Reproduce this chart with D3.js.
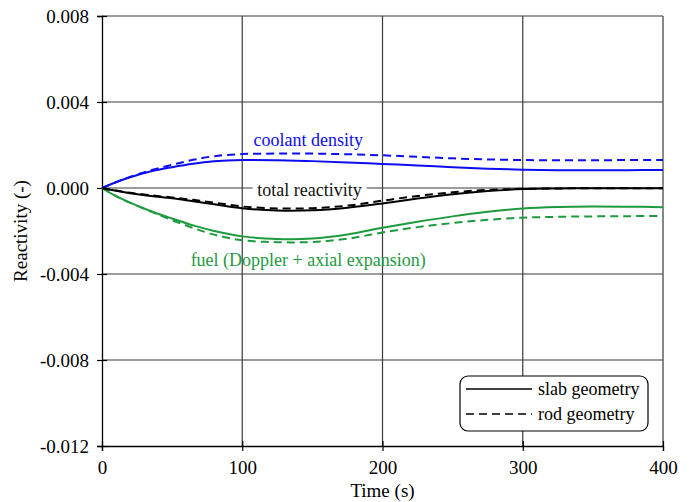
<!DOCTYPE html>
<html>
<head>
<meta charset="utf-8">
<script src="https://cdn.jsdelivr.net/npm/d3@7"></script>
<style>
  html, body { margin: 0; padding: 0; background: #fff; }
  svg { display: block; font-family: "Liberation Serif", "Times New Roman", serif; }
</style>
</head>
<body>
<svg id="chart" width="696" height="502"></svg>
<script>
// Time samples (s)
const time = [0, 10, 20, 35, 50, 65, 80, 100, 125, 150, 175, 200, 225, 250, 275, 300, 325, 350, 375, 400];

// Reactivity components, slab geometry (solid) and rod geometry (dashed)
const coolantSlab = [0, 0.00027, 0.0005, 0.00078, 0.00097, 0.00113, 0.00124, 0.0013, 0.00129, 0.00125, 0.00119, 0.00112, 0.00105, 0.00097, 0.0009, 0.00085, 0.00083, 0.00083, 0.00083, 0.00084];
const coolantRod  = [0, 0.00027, 0.00052, 0.00083, 0.00108, 0.00131, 0.00148, 0.00158, 0.0016, 0.0016, 0.00157, 0.00152, 0.00145, 0.00138, 0.00133, 0.0013, 0.00129, 0.00129, 0.0013, 0.0013];
const totalSlab   = [0, -0.00013, -0.00024, -0.00037, -0.00048, -0.00062, -0.00076, -0.00094, -0.00105, -0.00104, -0.00092, -0.00072, -0.00049, -0.00029, -0.00014, -0.00005, -0.00002, -0.00001, -0.00001, -0.00001];
const totalRod    = [0, -0.00012, -0.00022, -0.00034, -0.00044, -0.00055, -0.00068, -0.00086, -0.00095, -0.00094, -0.00082, -0.00059, -0.00037, -0.0002, -0.00009, -0.00004, -0.00002, -0.00001, -0.00001, -0.00001];
const fuelSlab    = [0, -0.00038, -0.00068, -0.00108, -0.00142, -0.00174, -0.002, -0.00225, -0.00237, -0.00235, -0.00216, -0.00185, -0.00157, -0.00132, -0.00111, -0.00095, -0.00088, -0.00086, -0.00087, -0.00089];
const fuelRod     = [0, -0.00038, -0.00069, -0.0011, -0.0015, -0.00186, -0.00217, -0.00243, -0.00252, -0.00251, -0.00236, -0.00207, -0.00182, -0.00163, -0.00148, -0.00138, -0.00134, -0.00132, -0.00131, -0.0013];

const xTicks = [0, 100, 200, 300, 400];
const yTicks = [0.008, 0.004, 0.000, -0.004, -0.008, -0.012];

const xTitle = "Time (s)";
const yTitle = "Reactivity (-)";
const legendLabels = ["slab geometry", "rod geometry"];

const BLUE = "#0d0df2";
const GREEN = "#1e9a3e";

const margin = { left: 102, top: 16, right: 33, bottom: 56 };
const W = 696, H = 502;
const iw = W - margin.left - margin.right;
const ih = H - margin.top - margin.bottom;

const svg = d3.select("#chart");
const g = svg.append("g").attr("transform", `translate(${margin.left},${margin.top})`);

const x = d3.scaleLinear().domain([0, 400]).range([0, iw]);
const y = d3.scaleLinear().domain([-0.012, 0.008]).range([ih, 0]);

// Grid lines
g.append("g").selectAll("line.gx").data(xTicks.slice(1)).join("line")
  .attr("x1", d => x(d)).attr("x2", d => x(d))
  .attr("y1", 0).attr("y2", ih)
  .attr("stroke", "#3a3a3a").attr("stroke-width", 1.2);
g.append("g").selectAll("line.gy").data(yTicks.filter(d => d > -0.012)).join("line")
  .attr("x1", 0).attr("x2", iw)
  .attr("y1", d => y(d)).attr("y2", d => y(d))
  .attr("stroke", "#3a3a3a").attr("stroke-width", 1.2);

// Axes with ticks crossing the axis line
const fmt = d => d === 0 ? "0.000" : d3.format(".3f")(d).replace("−", "-");
const yAxis = d3.axisLeft(y).tickValues(yTicks).tickSize(5).tickPadding(8).tickFormat(fmt);
const xAxis = d3.axisBottom(x).tickValues(xTicks).tickSize(5).tickPadding(10).tickFormat(d3.format("d"));

const ya = g.append("g").call(yAxis);
const xa = g.append("g").attr("transform", `translate(0,${ih})`).call(xAxis);
[ya, xa].forEach(a => {
  a.attr("font-family", null);
  a.select(".domain").attr("stroke", "#000").attr("stroke-width", 1.3);
  a.selectAll(".tick line").attr("stroke", "#000").attr("stroke-width", 1.2);
  a.selectAll(".tick text").attr("fill", "#000").style("font-size", "19px")
    .style("font-family", "'Liberation Serif', serif");
});
ya.selectAll(".tick line").attr("x1", 5).attr("x2", -5);
xa.selectAll(".tick line").attr("y1", -5).attr("y2", 5);

// Axis titles
svg.append("text").attr("x", margin.left + iw / 2).attr("y", 497)
  .attr("text-anchor", "middle").style("font-size", "19px").text(xTitle);
svg.append("text").attr("transform", `translate(27,${margin.top + ih / 2}) rotate(-90)`)
  .attr("text-anchor", "middle").style("font-size", "19px").text(yTitle);

// "total reactivity" label sits on a white patch over the zero line
const totalLabel = g.append("g").attr("transform", `translate(${x(148)},${y(0)})`);
totalLabel.append("rect").attr("x", -57).attr("y", -9).attr("width", 114).attr("height", 14).attr("fill", "#fff");
totalLabel.append("text").attr("x", 0).attr("y", 8).attr("text-anchor", "middle")
  .style("font-size", "18px").attr("fill", "#111").text("total reactivity");

// Curves
const line = d3.line().x((d, i) => x(time[i])).y(d => y(d)).curve(d3.curveCatmullRom.alpha(0.5));
const series = [
  { v: coolantSlab, c: BLUE, dash: null },
  { v: coolantRod, c: BLUE, dash: "8,5" },
  { v: fuelSlab, c: GREEN, dash: null },
  { v: fuelRod, c: GREEN, dash: "8,5" },
  { v: totalSlab, c: "#000", dash: null },
  { v: totalRod, c: "#000", dash: "8,5" }
];
g.append("g").selectAll("path").data(series).join("path")
  .attr("d", d => line(d.v))
  .attr("fill", "none")
  .attr("stroke", d => d.c)
  .attr("stroke-width", 2)
  .attr("stroke-dasharray", d => d.dash);

// Curve annotations
g.append("text").attr("x", x(147)).attr("y", 146 - margin.top).attr("text-anchor", "middle")
  .style("font-size", "18px").attr("fill", BLUE).text("coolant density");
g.append("text").attr("x", x(147)).attr("y", 266 - margin.top).attr("text-anchor", "middle")
  .style("font-size", "18px").attr("fill", GREEN).text("fuel (Doppler + axial expansion)");

// Legend
const lg = svg.append("g").attr("transform", "translate(460,376)");
lg.append("rect").attr("width", 188).attr("height", 55).attr("rx", 8).attr("ry", 8)
  .attr("fill", "#fff").attr("stroke", "#000").attr("stroke-width", 1.2);
legendLabels.forEach((lab, i) => {
  const yy = 13 + i * 25;
  lg.append("line").attr("x1", 6).attr("x2", 72).attr("y1", yy).attr("y2", yy)
    .attr("stroke", "#000").attr("stroke-width", 1.6)
    .attr("stroke-dasharray", i === 1 ? "8,5" : null);
  lg.append("text").attr("x", 78).attr("y", yy + 6).style("font-size", "18px").text(lab);
});
</script>
</body>
</html>
